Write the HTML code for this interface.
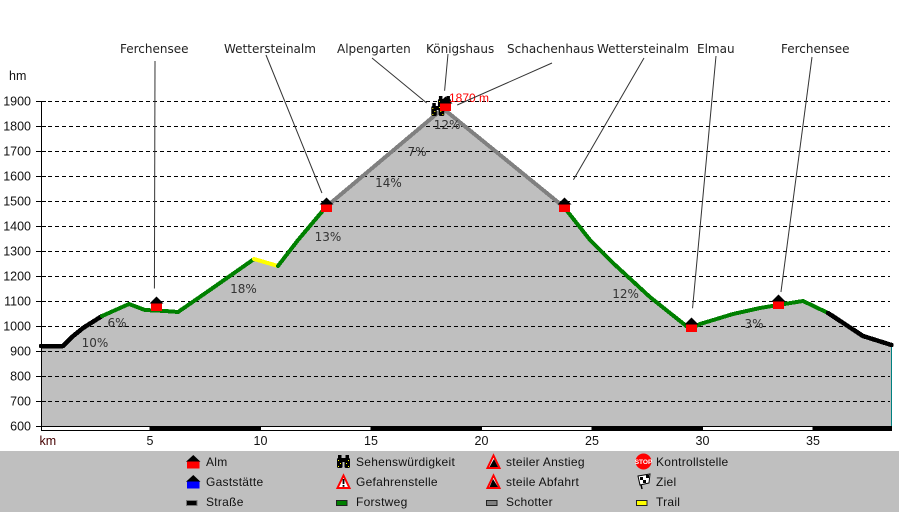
<!DOCTYPE html>
<html lang="de">
<head>
<meta charset="utf-8">
<title>Höhenprofil</title>
<style>
html,body{margin:0;padding:0;background:#fff;width:899px;height:512px;overflow:hidden}
svg{display:block}
.lg{font:12px "Liberation Sans",Arial,sans-serif;fill:#111;letter-spacing:.27px}
</style>
</head>
<body>
<svg id="chart" xmlns="http://www.w3.org/2000/svg" width="899" height="512" viewBox="0 0 899 512">
<defs>
<g id="binoculars">
<rect x="0" y="3" width="5.5" height="10" rx="1.5" fill="#000"/>
<rect x="7.5" y="3" width="5.5" height="10" rx="1.5" fill="#000"/>
<rect x="1" y="0" width="3.5" height="5" fill="#000"/>
<rect x="8.5" y="0" width="3.5" height="5" fill="#000"/>
<rect x="4" y="3" width="5" height="4" fill="#000"/>
<rect x="1" y="5" width="1" height="1" fill="#ff0"/><rect x="3" y="8" width="1" height="1" fill="#ff0"/>
<rect x="1" y="11" width="1" height="1" fill="#ff0"/><rect x="11" y="5" width="1" height="1" fill="#ff0"/>
<rect x="9" y="8" width="1" height="1" fill="#ff0"/><rect x="11" y="11" width="1" height="1" fill="#ff0"/>
</g>
</defs>
<rect x="0" y="451" width="899" height="61" fill="#bfbfbf"/>
<g id="plot"></g>

<g>
<g>
<polygon points="193.3,455 186,461.7 200.5,461.7" fill="#000"/><rect x="187" y="461.5" width="12.5" height="7" fill="#f00"/>
<text class="lg" x="206" y="466">Alm</text></g>
<g>
<polygon points="193.3,475 186,481.7 200.5,481.7" fill="#000"/><rect x="187" y="481.5" width="12.5" height="7" fill="#00f"/>
<text class="lg" x="206" y="486">Gaststätte</text></g>
<g>
<rect x="186.5" y="500.5" width="10.5" height="5" fill="#000" stroke="#777"/>
<text class="lg" x="206" y="506">Straße</text></g>
<g>
<use href="#binoculars" x="337" y="455"/>
<text class="lg" x="356" y="466">Sehenswürdigkeit</text></g>
<g>
<polygon points="343.5,475.5 337.5,488 349.5,488" fill="#fff" stroke="#f00" stroke-width="2"/>
<rect x="342.6" y="479" width="1.8" height="5" fill="#000"/><rect x="342.6" y="485" width="1.8" height="1.8" fill="#000"/>
<text class="lg" x="356" y="486">Gefahrenstelle</text></g>
<g>
<rect x="336.5" y="500.5" width="10.5" height="5" fill="#008000" stroke="#222"/>
<text class="lg" x="356" y="506">Forstweg</text></g>
<g>
<polygon points="493.5,455.5 487.5,468 499.5,468" fill="#fff" stroke="#f00" stroke-width="2"/>
<polygon points="494,459 489.5,467 498,467" fill="#000"/>
<text class="lg" x="506" y="466">steiler Anstieg</text></g>
<g>
<polygon points="493.5,475.5 487.5,488 499.5,488" fill="#fff" stroke="#f00" stroke-width="2"/>
<polygon points="493,479 489.5,487 498,487" fill="#000"/>
<text class="lg" x="506" y="486">steile Abfahrt</text></g>
<g>
<rect x="486.5" y="500.5" width="10.5" height="5" fill="#808080" stroke="#222"/>
<text class="lg" x="506" y="506">Schotter</text></g>
<g>
<circle cx="643.5" cy="461.5" r="8" fill="#f00"/>
<text x="643.5" y="464" text-anchor="middle" font-family="Liberation Sans,sans-serif" font-size="6.5" font-weight="bold" fill="#fff">STOP</text>
<text class="lg" x="656" y="466">Kontrollstelle</text></g>
<g>
<line x1="639" y1="476" x2="642" y2="489" stroke="#000" stroke-width="1.5"/>
<polygon points="638,476 650,474 649,483 640,485" fill="#fff" stroke="#000"/>
<rect x="640" y="477" width="3" height="3" fill="#000"/><rect x="646" y="475" width="3" height="3" fill="#000"/><rect x="643" y="480" width="3" height="3" fill="#000"/>
<text class="lg" x="656" y="486">Ziel</text></g>
<g>
<rect x="636.5" y="500.5" width="10.5" height="5" fill="#ff0" stroke="#222"/>
<text class="lg" x="656" y="506">Trail</text></g>
</g>
</svg>
<script>
// ---- chart data ----
const profileKm = [0.07,1.06,1.47,1.97,2.83,4.05,4.77,5.68,6.27,7.71,9.71,10.79,11.70,12.96,18.26,23.73,24.91,25.95,27.62,29.21,29.43,29.89,31.38,32.6,33.42,34.55,35.68,37.26,38.55];
const profileHm = [920,920,956,992,1040,1088,1064,1060,1056,1144,1268,1240,1344,1476,1870,1476,1344,1252,1116,1004,988,1008,1048,1072,1084,1100,1052,960,924];
const segmentSurface = ['road','road','road','road','forest','forest','forest','forest','forest','forest','trail','forest','forest','gravel','gravel','forest','forest','forest','forest','forest','forest','forest','forest','forest','forest','forest','road','road'];
const yTicks = [600,700,800,900,1000,1100,1200,1300,1400,1500,1600,1700,1800,1900];
const xTicks = [5,10,15,20,25,30,35];
const xBandEdges = [0.07,5,10,15,20,25,30,35,38.55];
const gradeLabels = ['10%','6%','18%','13%','14%','7%','12%','12%','3%'];
const gradeKm = [2.51,3.51,9.23,13.05,15.79,17.08,18.44,26.52,32.33];
const gradeHm = [916,996,1132,1340,1556,1680,1788,1112,992];
const hutNames = ['ferchensee-1','wettersteinalm-1','schachenhaus','wettersteinalm-2','elmau','ferchensee-2'];
const hutKm = [5.29,12.96,18.37,23.75,29.46,33.42];
const hutHm = [1062,1457,1860,1456,977,1068];
const sightKm = [18.0,18.3];
const sightHm = [1848,1876];
const peakKm = 18.53;
const peakHm = 1896;
const peakLabel = '1870 m';
const surfaceColor = {road:'#000',forest:'#008000',trail:'#ff0',gravel:'#808080'};

// ---- axes ----
const xScale = km => 39.5 + km * 22.1;
const yScale = hm => 101 + (1900 - hm) * 0.25;
const SVGNS = 'http://www.w3.org/2000/svg';
const plot = document.getElementById('plot');
function make(tag, attrs, parent, text) {
  const el = document.createElementNS(SVGNS, tag);
  for (const k in attrs) el.setAttribute(k, attrs[k]);
  if (text !== undefined) el.textContent = text;
  (parent || plot).appendChild(el);
  return el;
}
const bottom = yScale(600);
const sans = '"Liberation Sans",Arial,sans-serif';
const deja = '"DejaVu Sans",Verdana,sans-serif';

// area under the profile
const areaPts = profileKm.map((k, i) => xScale(k) + ',' + yScale(profileHm[i]));
areaPts.push(xScale(profileKm[profileKm.length - 1]) + ',' + bottom);
areaPts.push(xScale(profileKm[0]) + ',' + bottom);
const area = make('polygon', {points: areaPts.join(' '), fill: '#bfbfbf'});



// horizontal grid
yTicks.forEach(t => {
  const y = Math.floor(yScale(t)) + 0.5;
  const tick = make('line', {x1: 36, x2: 46, y1: y, y2: y, stroke: '#000', 'shape-rendering': 'crispEdges'});
  
  
  const g = make('line', {x1: 48, x2: 890, y1: y, y2: y, stroke: '#000', 'stroke-dasharray': '4 3', 'shape-rendering': 'crispEdges'});
  
  
  const l = make('text', {x: 31, y: yScale(t) + 4.5, 'text-anchor': 'end', 'font-family': sans, 'font-size': 12.5, fill: '#111'}, plot, String(t));
  
  
});

// y axis and right edge
const yAxis = make('line', {x1: 41.5, x2: 41.5, y1: 101, y2: bottom + 5, stroke: '#000', 'shape-rendering': 'crispEdges'});


const edge = make('line', {x1: 891.5, x2: 891.5, y1: yScale(profileHm[profileHm.length - 1]), y2: bottom, stroke: '#008080', 'shape-rendering': 'crispEdges'});



// km band
xBandEdges.slice(0, -1).forEach((k, i) => {
  const x0 = Math.max(41.5, xScale(k));
  const x1 = xScale(xBandEdges[i + 1]);
  const b = make('rect', {x: x0, y: bottom + 0.5, width: x1 - x0, height: 4, fill: i % 2 ? '#000' : '#fff', stroke: '#000', 'shape-rendering': 'crispEdges'});
  
  
});
xTicks.forEach(t => {
  const l = make('text', {x: xScale(t), y: 445, 'text-anchor': 'middle', 'font-family': sans, 'font-size': 12.5, fill: '#111'}, plot, String(t));
  
  
});
const kmT = make('text', {x: 39.5, y: 445, 'font-family': sans, 'font-size': 12.5, fill: '#400'}, plot, 'km');


const hmT = make('text', {x: 9, y: 80, 'font-family': sans, 'font-size': 12.5, fill: '#111'}, plot, 'hm');



// route segments
segmentSurface.forEach((s, i) => {
  const seg = make('line', {
    x1: xScale(profileKm[i]), y1: yScale(profileHm[i]),
    x2: xScale(profileKm[i + 1]), y2: yScale(profileHm[i + 1]),
    stroke: surfaceColor[s], 'stroke-width': s === 'road' ? 4.5 : 4, 'stroke-linecap': 'round', 'shape-rendering': 'crispEdges'
  });
  
  
});

// grade labels
gradeLabels.forEach((t, i) => {
  const l = make('text', {x: xScale(gradeKm[i]), y: yScale(gradeHm[i]), 'text-anchor': 'middle', 'font-family': deja, 'font-size': 12, fill: '#333'}, plot, t);
  
  
});

// sight icons
sightKm.forEach((k, i) => {
  const u = make('use', {href: '#binoculars', x: xScale(k) - 6, y: yScale(sightHm[i]) - 11});
  
  
});

// hut icons
hutKm.forEach((k, i) => {
  const cx = Math.round(xScale(k)) + 0.5, by = Math.round(yScale(hutHm[i]));
  const g = make('g', {});
  
  
  make('polygon', {points: [cx, by - 14.5, cx - 7, by - 7.5, cx + 7, by - 7.5].join(','), fill: '#000'}, g);
  make('rect', {x: cx - 5.5, y: by - 7.5, width: 11, height: 7.5, fill: '#f00'}, g);
});

// peak label
const peak = make('text', {x: xScale(peakKm), y: yScale(peakHm), 'font-family': sans, 'font-size': 12, fill: '#f00'}, plot, peakLabel);



// place callouts
const placeNames = ['Ferchensee','Wettersteinalm','Alpengarten','Königshaus','Schachenhaus','Wettersteinalm','Elmau','Ferchensee'];
const placeTextX = [120,224,337,426,507,597,697,781];
const leaderTopX = [155,266,372,448,552,644,716,812];
const leaderTopY = [61,55,58,54,63,58,56,57];
const leaderEndKm = [5.2,12.78,17.52,18.33,18.9,24.16,29.55,33.55];
const leaderEndHm = [1150,1532,1892,1941,1884,1585,1071,1136];
placeNames.forEach((n, i) => {
  const t = make('text', {x: placeTextX[i], y: 53, 'font-family': deja, 'font-size': 12, fill: '#222'}, plot, n);
  
  
  const l = make('line', {x1: leaderTopX[i], y1: leaderTopY[i], x2: xScale(leaderEndKm[i]), y2: yScale(leaderEndHm[i]), stroke: '#333', 'stroke-width': 1});
  
  
});
</script>
</body>
</html>
